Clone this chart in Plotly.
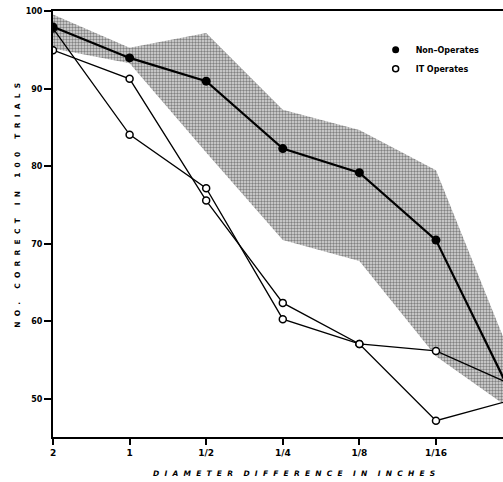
import plotly.graph_objects as go

# ---- data ----
categories = ["2", "1", "1/2", "1/4", "1/8", "1/16", "1/32"]
non_operates = [98.0, 94.0, 91.0, 82.3, 79.2, 70.5, 50.3]
it_operates_a = [95.0, 91.3, 75.6, 62.4, 57.1, 47.2, 49.9]
it_operates_b = [97.8, 84.1, 77.2, 60.3, 57.1, 56.2, 51.8]
band_upper = [99.6, 95.3, 97.2, 87.3, 84.7, 79.5, 55.0]
band_lower = [95.2, 93.3, 81.8, 70.5, 67.8, 55.5, 48.5]
y_ticks = [50, 60, 70, 80, 90, 100]
shown_ticks = 6

xpos = list(range(len(categories)))
FONT = "DejaVu Sans"

fig = go.Figure()

# stippled range band
fig.add_trace(go.Scatter(x=xpos, y=band_lower, mode="lines",
                         line=dict(width=0, color="rgba(0,0,0,0)"),
                         showlegend=False, hoverinfo="skip"))
fig.add_trace(go.Scatter(x=xpos, y=band_upper, mode="lines",
                         line=dict(width=0, color="rgba(0,0,0,0)"),
                         fill="tonexty",
                         fillcolor="rgba(170,170,170,0.55)",
                         fillpattern=dict(shape=".", fgcolor="rgba(20,20,20,0.9)",
                                          bgcolor="rgba(195,195,195,0.6)",
                                          size=3, solidity=0.5),
                         showlegend=False, hoverinfo="skip"))

open_marker = dict(symbol="circle", size=7, color="white",
                   line=dict(color="black", width=1.5))
for series in (it_operates_a, it_operates_b):
    fig.add_trace(go.Scatter(x=xpos, y=series, mode="lines+markers",
                             line=dict(color="black", width=1.3),
                             marker=open_marker, showlegend=False,
                             cliponaxis=True))

fig.add_trace(go.Scatter(x=xpos, y=non_operates, mode="lines+markers",
                         line=dict(color="black", width=2.2),
                         marker=dict(symbol="circle", size=9, color="black"),
                         showlegend=False, cliponaxis=True))

# legend entries
fig.add_trace(go.Scatter(x=[None], y=[None], mode="markers",
                         marker=dict(symbol="circle", size=7, color="black"),
                         name="Non\u2013Operates"))
fig.add_trace(go.Scatter(x=[None], y=[None], mode="markers",
                         marker=dict(symbol="circle", size=6, color="white",
                                     line=dict(color="black", width=1.5)),
                         name="IT Operates"))

def spaced(text, gap=" ", word_gap="    "):
    words = text.split(" ")
    return word_gap.join(gap.join(list(w)) for w in words)

fig.update_layout(
    width=503, height=482,
    margin=dict(l=53, r=0, t=11, b=45),
    paper_bgcolor="white", plot_bgcolor="white",
    font=dict(family=FONT, color="black"),
    showlegend=True,
    legend=dict(x=0.717, y=0.943, xanchor="left", yanchor="top",
                traceorder="normal",
                bgcolor="rgba(0,0,0,0)", borderwidth=0,
                font=dict(size=8, family=FONT, weight="bold"),
                itemwidth=30, tracegroupgap=0),
    xaxis=dict(range=[0, 5.875], tickvals=xpos[:shown_ticks],
               ticktext=categories[:shown_ticks],
               showgrid=False, zeroline=False,
               showline=True, linecolor="black", linewidth=2, mirror=True,
               ticks="outside", ticklen=6, tickwidth=1.5, tickcolor="black",
               tickfont=dict(size=9, family=FONT, weight="bold")),
    yaxis=dict(range=[45.1, 100.05], tickvals=y_ticks,
               showgrid=False, zeroline=False,
               showline=True, linecolor="black", linewidth=2,
               ticks="outside", ticklen=7, tickwidth=1.5, tickcolor="black",
               tickfont=dict(size=8, family=FONT, weight="bold")),
    annotations=[
        dict(text=spaced("DIAMETER DIFFERENCE IN INCHES", gap="  ", word_gap="    "),
             xref="paper", yref="paper", x=0.536, y=-0.085,
             xanchor="center", yanchor="middle", showarrow=False,
             font=dict(size=7.5, family=FONT, weight="bold", style="italic")),
        dict(text=spaced("NO. CORRECT IN 100 TRIALS", gap="  ", word_gap="     "),
             xref="paper", yref="paper", x=-0.078, y=0.545, textangle=-90,
             xanchor="center", yanchor="middle", showarrow=False,
             font=dict(size=7.5, family=FONT, weight="bold")),
    ],
)

fig.write_html("out.html",
               config={"displayModeBar": False},
               post_script="document.body.style.margin='0px';"
                           "document.body.style.overflow='hidden';")
